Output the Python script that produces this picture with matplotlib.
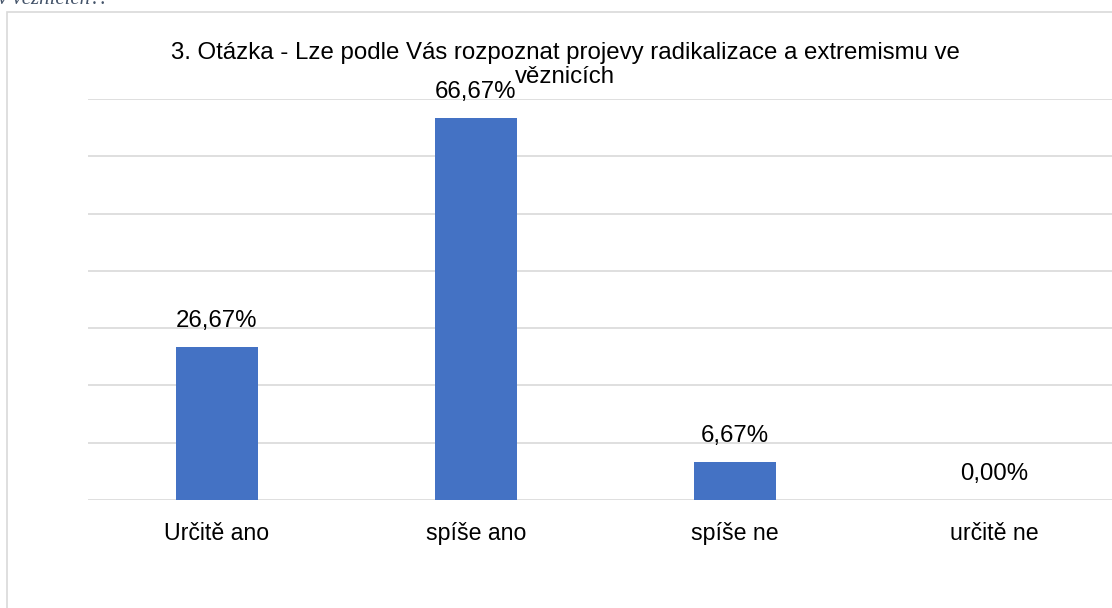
import matplotlib

matplotlib.use("Agg")
import matplotlib.pyplot as plt
from matplotlib.patches import Rectangle

CATEGORIES = ["Určitě ano", "spíše ano", "spíše ne", "určitě ne"]
VALUES = [26.67, 66.67, 6.67, 0.00]
TITLE = "3. Otázka - Lze podle Vás rozpoznat projevy radikalizace a extremismu ve\nvěznicích"
CAPTION = "v věznicích?."

BAR_COLOR = "#4472C4"
GRID_COLOR = "#D9D9D9"
W, H = 1112, 608

plt.rcParams["font.family"] = ["Liberation Sans", "DejaVu Sans"]

fig = plt.figure(figsize=(W / 100, H / 100), dpi=100)

# outer chart frame (cropped on the right and bottom)
fig.patches.append(
    Rectangle((7 / W, -0.1), 1.2, 1 - 12 / H + 0.1, transform=fig.transFigure,
              fill=False, edgecolor=GRID_COLOR, linewidth=1.2)
)

# clipped caption from the document above the chart
fig.text(-2 / W, 1 - 4 / H, CAPTION, fontsize=15, style="italic",
         family=["Liberation Serif", "DejaVu Serif"], color="#44546A",
         ha="left", va="baseline")

ax = fig.add_axes([87.5 / W, 1 - 500 / H, 1036 / W, 401 / H])
x = list(range(len(CATEGORIES)))
bars = ax.bar(x, VALUES, width=0.313, color=BAR_COLOR, zorder=3)

ax.set_xlim(-0.5, len(CATEGORIES) - 0.5)
ax.set_ylim(0, 70)
ax.set_yticks(range(0, 71, 10))
ax.yaxis.grid(True, color=GRID_COLOR, linewidth=1.2, zorder=0)
ax.tick_params(axis="y", left=False, labelleft=False)
ax.tick_params(axis="x", bottom=False, pad=12, labelsize=16.7)
ax.set_xticks(x)
ax.set_xticklabels(CATEGORIES)
for side in ax.spines.values():
    side.set_visible(False)

for xi, v in zip(x, VALUES):
    ax.annotate(f"{v:.2f}%".replace(".", ","), (xi, v), xytext=(0, 14.5),
                textcoords="offset points", ha="center", va="baseline",
                fontsize=17.3, zorder=4)

fig.text(565 / W, 1 - 83 / H, TITLE, ha="center", va="baseline",
         fontsize=17.3, linespacing=1.1)

fig.savefig("out.png", dpi=100)
